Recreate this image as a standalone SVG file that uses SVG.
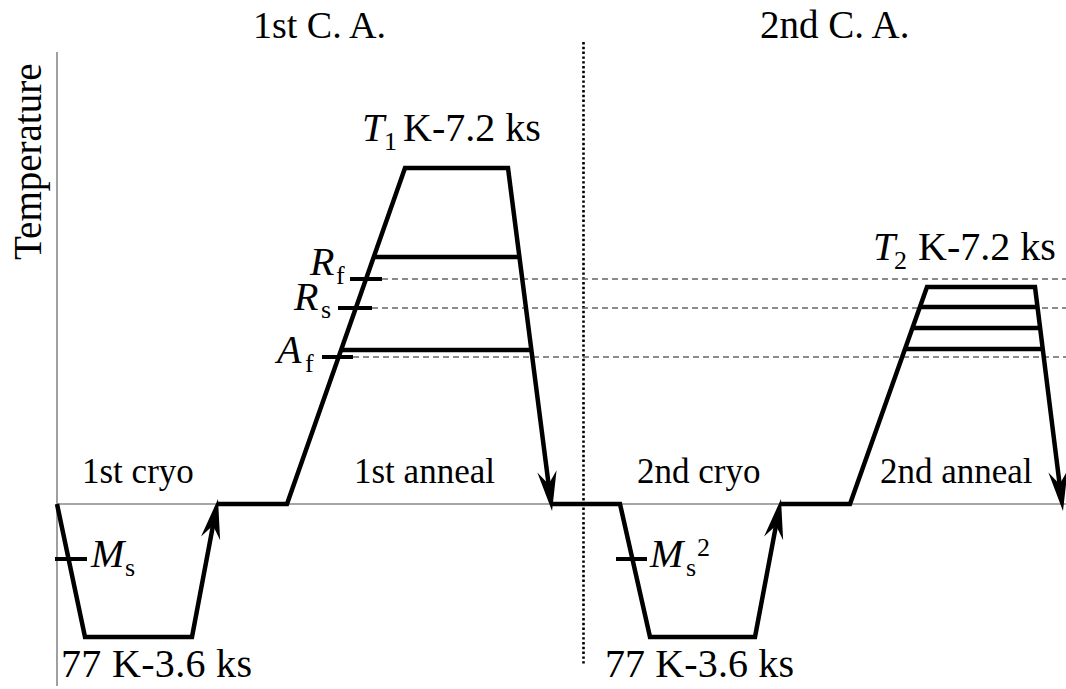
<svg xmlns="http://www.w3.org/2000/svg" width="1066" height="689" viewBox="0 0 1066 689" font-family="'Liberation Serif', 'Times New Roman', serif">
<style>
text,tspan{font-family:"Liberation Serif","Times New Roman",serif;fill:#000}
.big{font-size:38px}
.lg{font-size:40px}
.lab{font-size:35px}
.it{font-style:italic}
.sub{font-size:26px;font-style:normal}
.thick{fill:none;stroke:#000;stroke-width:4.5;stroke-linejoin:miter}
.tick{stroke:#000;stroke-width:4}
.axis{stroke:#888;stroke-width:1.6;fill:none}
.dash{stroke:#666;stroke-width:1.4;stroke-dasharray:6 4;fill:none}
.dot{stroke:#000;stroke-width:2.6;stroke-dasharray:2.4 2.4;fill:none}
</style>
<defs>
<marker id="arr" markerUnits="userSpaceOnUse" viewBox="-42 -11 44 22" refX="-20" refY="0" markerWidth="44" markerHeight="22" orient="auto" overflow="visible">
<path d="M0,0 L-40,-9.7 L-27,0 L-40,9.7 Z" fill="#000"/>
</marker>
</defs>
<g id="axes">
<line class="axis" x1="57" y1="52" x2="57" y2="686"/>
<line class="axis" x1="57" y1="504" x2="1066" y2="504"/>
<text font-size="39" transform="translate(41,260) rotate(-90)">Temperature</text>
</g>
<g id="guides">
<line class="dot" x1="583.5" y1="42" x2="583.5" y2="664"/>
<line class="dash" x1="382" y1="279" x2="1066" y2="279"/>
<line class="dash" x1="372" y1="308" x2="1066" y2="308"/>
<line class="dash" x1="353" y1="357" x2="1066" y2="357"/>
</g>
<g id="titles">
<text class="big" x="253" y="38">1st C. A.</text>
<text class="big" x="760" y="38" style="font-size:39px">2nd C. A.</text>
</g>
<g id="connectors">
<path class="thick" d="M57,504 L85,637 L192,637 L214.3,518.7" marker-end="url(#arr)"/>
<path class="thick" d="M218,504 L287,504 L405,168 L508,168 L549.5,491.2" marker-end="url(#arr)"/>
<path class="thick" d="M552,504 L620,504 L650,637 L755,637 L777.3,518.7" marker-end="url(#arr)"/>
<path class="thick" d="M781,504 L850,504 L927,287 L1035,287 L1060.5,491.2" marker-end="url(#arr)"/>
</g>
<g id="anneal1">
<line class="thick" x1="373.7" y1="257" x2="519.4" y2="257"/>
<line class="thick" x1="341.1" y1="350" x2="531.3" y2="350"/>
<line class="tick" x1="350" y1="279" x2="382" y2="279"/>
<line class="tick" x1="338" y1="308" x2="372" y2="308"/>
<line class="tick" x1="322" y1="357" x2="353" y2="357"/>
<text class="lg"><tspan class="it" x="362" y="141">T</tspan><tspan class="sub" x="384" y="150">1</tspan><tspan x="403" y="141">K-7.2 ks</tspan></text>
<text class="lg"><tspan class="it" x="310" y="275">R</tspan><tspan class="sub" x="336" y="284">f</tspan></text>
<text class="lg"><tspan class="it" x="294" y="310">R</tspan><tspan class="sub" x="321" y="318">s</tspan></text>
<text class="lg"><tspan class="it" x="277" y="363">A</tspan><tspan class="sub" x="305" y="372">f</tspan></text>
<text class="lab" x="354" y="483">1st anneal</text>
</g>
<g id="cryo1">
<line class="tick" x1="55" y1="559" x2="87" y2="559"/>
<text class="lg"><tspan class="it" x="91" y="567">M</tspan><tspan class="sub" x="125" y="576">s</tspan></text>
<text class="lab" x="82" y="483">1st cryo</text>
<text class="lg" x="61" y="677" textLength="191" lengthAdjust="spacing">77 K-3.6 ks</text>
</g>
<g id="cryo2">
<line class="tick" x1="616" y1="559" x2="647" y2="559"/>
<text class="lg"><tspan class="it" x="650" y="567">M</tspan><tspan class="sub" x="686" y="576">s</tspan><tspan class="sub" x="697" y="556">2</tspan></text>
<text class="lab" x="637" y="483">2nd cryo</text>
<text class="lg" x="605" y="677" textLength="189" lengthAdjust="spacing">77 K-3.6 ks</text>
</g>
<g id="anneal2">
<line class="thick" x1="919.9" y1="307" x2="1037.5" y2="307"/>
<line class="thick" x1="912.4" y1="328" x2="1040.1" y2="328"/>
<line class="thick" x1="905" y1="349" x2="1042.8" y2="349"/>
<text class="lg"><tspan class="it" x="873" y="260">T</tspan><tspan class="sub" x="894" y="269">2</tspan><tspan x="918" y="260">K-7.2 ks</tspan></text>
<text class="lab" x="880" y="483">2nd anneal</text>
</g>
</svg>
